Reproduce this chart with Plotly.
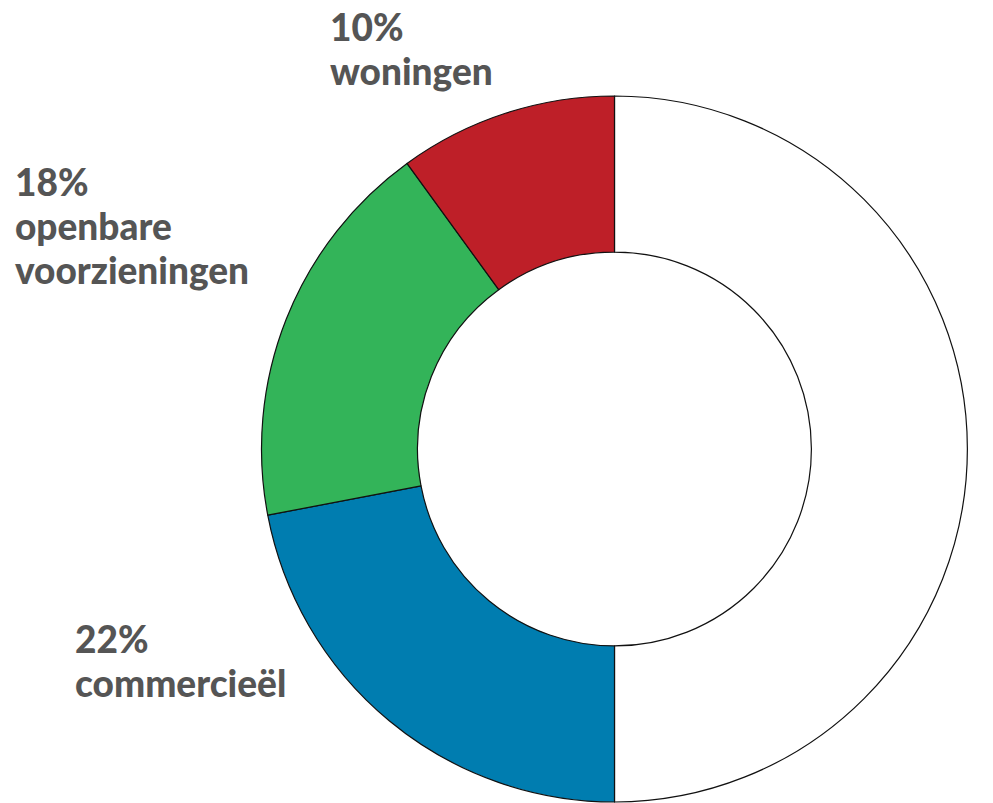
import plotly.graph_objects as go

# Share of floor area by function (white = remainder, unlabelled)
categories = ["overig", "commercieël", "openbare voorzieningen", "woningen"]
values = [50, 22, 18, 10]
colors = ["#FFFFFF", "#007DB0", "#33B459", "#BE1F28"]

# Label lines per labelled slice: (category index, name lines, left px, first-line centre px)
label_lines = {
    3: ["woningen"],
    2: ["openbare", "voorzieningen"],
    1: ["commercieël"],
}
label_pos = {3: (328, 26), 2: (13, 181), 1: (73, 638)}

W, H = 993, 803
cx, cy, r = 614.5, 449.0, 353.0
line_gap = 44

fig = go.Figure(
    go.Pie(
        labels=categories,
        values=values,
        marker=dict(colors=colors, line=dict(color="#111111", width=1.2)),
        hole=0.558,
        sort=False,
        direction="clockwise",
        rotation=0,
        textinfo="none",
        hoverinfo="label+percent",
        showlegend=False,
        domain=dict(
            x=[(cx - r) / W, (cx + r) / W],
            y=[1 - (cy + r) / H, 1 - (cy - r) / H],
        ),
    )
)

annotations = []
for idx, lines in label_lines.items():
    x0, y0 = label_pos[idx]
    texts = [f"{values[idx]}%"] + lines
    for k, t in enumerate(texts):
        annotations.append(
            dict(
                text=t,
                x=x0 / W,
                y=1 - (y0 + k * line_gap) / H,
                xref="paper",
                yref="paper",
                xanchor="left",
                yanchor="middle",
                showarrow=False,
                font=dict(family="Lato", size=37, color="#555555", weight=900),
            )
        )

fig.update_layout(
    width=W,
    height=H,
    margin=dict(l=0, r=0, t=0, b=0),
    paper_bgcolor="white",
    plot_bgcolor="white",
    annotations=annotations,
)

fig.write_html("out.html")
